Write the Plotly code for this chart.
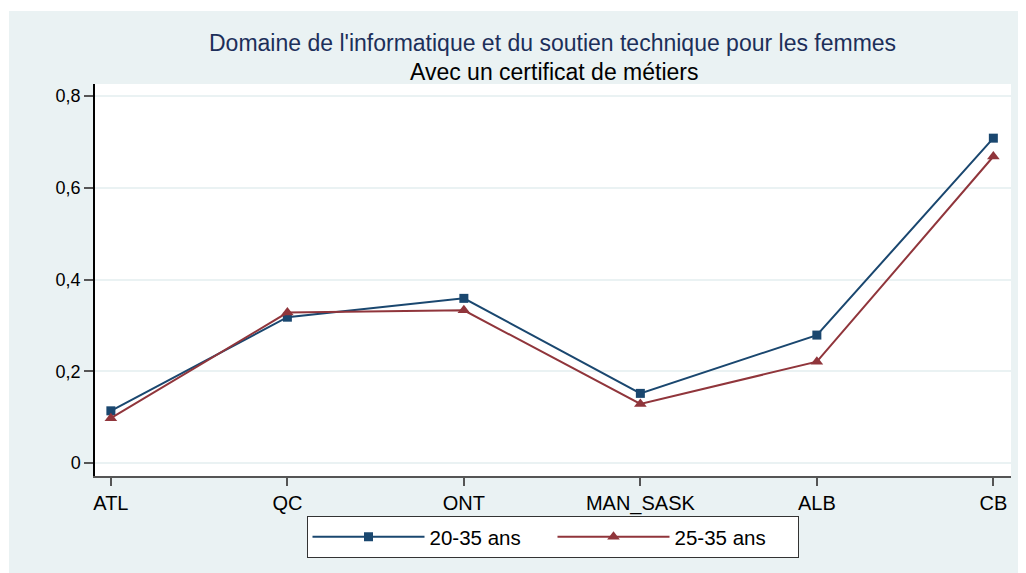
import plotly.graph_objects as go

categories = ["ATL", "QC", "ONT", "MAN_SASK", "ALB", "CB"]
series_20_35 = [0.114, 0.318, 0.359, 0.152, 0.279, 0.708]
series_25_35 = [0.098, 0.328, 0.333, 0.129, 0.221, 0.668]
series_names = ["20-35 ans", "25-35 ans"]
y_tickvals = [0, 0.2, 0.4, 0.6, 0.8]
y_ticktext = ["0", "0,2", "0,4", "0,6", "0,8"]
title_text = "Domaine de l'informatique et du soutien technique pour les femmes"
subtitle_text = "Avec un certificat de métiers"

NAVY = "#1A476F"
MAROON = "#90353B"
BG = "#EAF2F3"
FONT = "Liberation Sans, Arial, sans-serif"

OFF = 8  # page body margin
W, H = 1026 - OFF, 573 - OFF
# plot area in screen pixels
SX0, SX1, SY0, SY1 = 95, 1011, 84, 476
L, R, T, B = SX0 - OFF, 1026 - SX1, SY0 - OFF, 573 - SY1
pw, ph = SX1 - SX0, SY1 - SY0


def px_x(px):
    return (px - SX0) / pw


def px_y(py):
    return (SY1 - py) / ph


fig = go.Figure()
fig.add_trace(go.Scatter(
    x=list(range(len(categories))), y=series_20_35, name=series_names[0],
    mode="lines+markers",
    line=dict(color=NAVY, width=2),
    marker=dict(symbol="square", size=9, color=NAVY),
))
fig.add_trace(go.Scatter(
    x=list(range(len(categories))), y=series_25_35, name=series_names[1],
    mode="lines+markers",
    line=dict(color=MAROON, width=2),
    marker=dict(symbol="triangle-up", size=11, color=MAROON),
))

fig.update_layout(
    width=W, height=H,
    margin=dict(l=L, r=R, t=T, b=B, pad=0),
    paper_bgcolor="white",
    plot_bgcolor="white",
    font=dict(family=FONT, size=16, color="black"),
    separators=", ",
    showlegend=True,
    legend=dict(
        orientation="h",
        x=px_x(552.5), xanchor="center",
        y=px_y(516), yanchor="top",
        bgcolor="white",
        bordercolor="#333333",
        borderwidth=1,
        font=dict(family=FONT, size=20.5, color="black"),
        itemwidth=112,
        entrywidth=118,
        traceorder="normal",
    ),
    xaxis=dict(
        tickmode="array",
        tickvals=list(range(len(categories))),
        ticktext=categories,
        range=[-0.09, 5.10],
        showgrid=False,
        zeroline=False,
        showline=True, linecolor="#555555", linewidth=1.5,
        ticks="outside", ticklen=8, tickcolor="#555555", tickwidth=1.5,
        tickfont=dict(family=FONT, size=20, color="black"),
        fixedrange=True,
    ),
    yaxis=dict(
        tickmode="array",
        tickvals=y_tickvals,
        ticktext=y_ticktext,
        range=[-0.028, 0.826],
        showgrid=True, gridcolor=BG, gridwidth=1.5,
        zeroline=False,
        showline=True, linecolor="black", linewidth=1.5,
        ticks="outside", ticklen=9, tickcolor="#555555", tickwidth=1.5,
        tickfont=dict(family=FONT, size=18, color="black"),
        fixedrange=True,
    ),
    shapes=[dict(
        type="rect", xref="paper", yref="paper", layer="below",
        x0=px_x(9), x1=px_x(1030), y0=px_y(580), y1=px_y(11),
        fillcolor=BG, line=dict(width=0),
    ), dict(
        type="rect", xref="paper", yref="paper", layer="below",
        x0=0, x1=1, y0=0, y1=1,
        fillcolor="white", line=dict(width=0),
    )],
    annotations=[
        dict(text=title_text, xref="paper", yref="paper",
             x=px_x(552.5), y=px_y(43), xanchor="center", yanchor="middle",
             showarrow=False, font=dict(family=FONT, size=23, color="#1C2F5A")),
        dict(text=subtitle_text, xref="paper", yref="paper",
             x=px_x(553.5), y=px_y(72), xanchor="center", yanchor="middle",
             showarrow=False, font=dict(family=FONT, size=23, color="black")),
    ],
)

fig.write_html("out.html")
